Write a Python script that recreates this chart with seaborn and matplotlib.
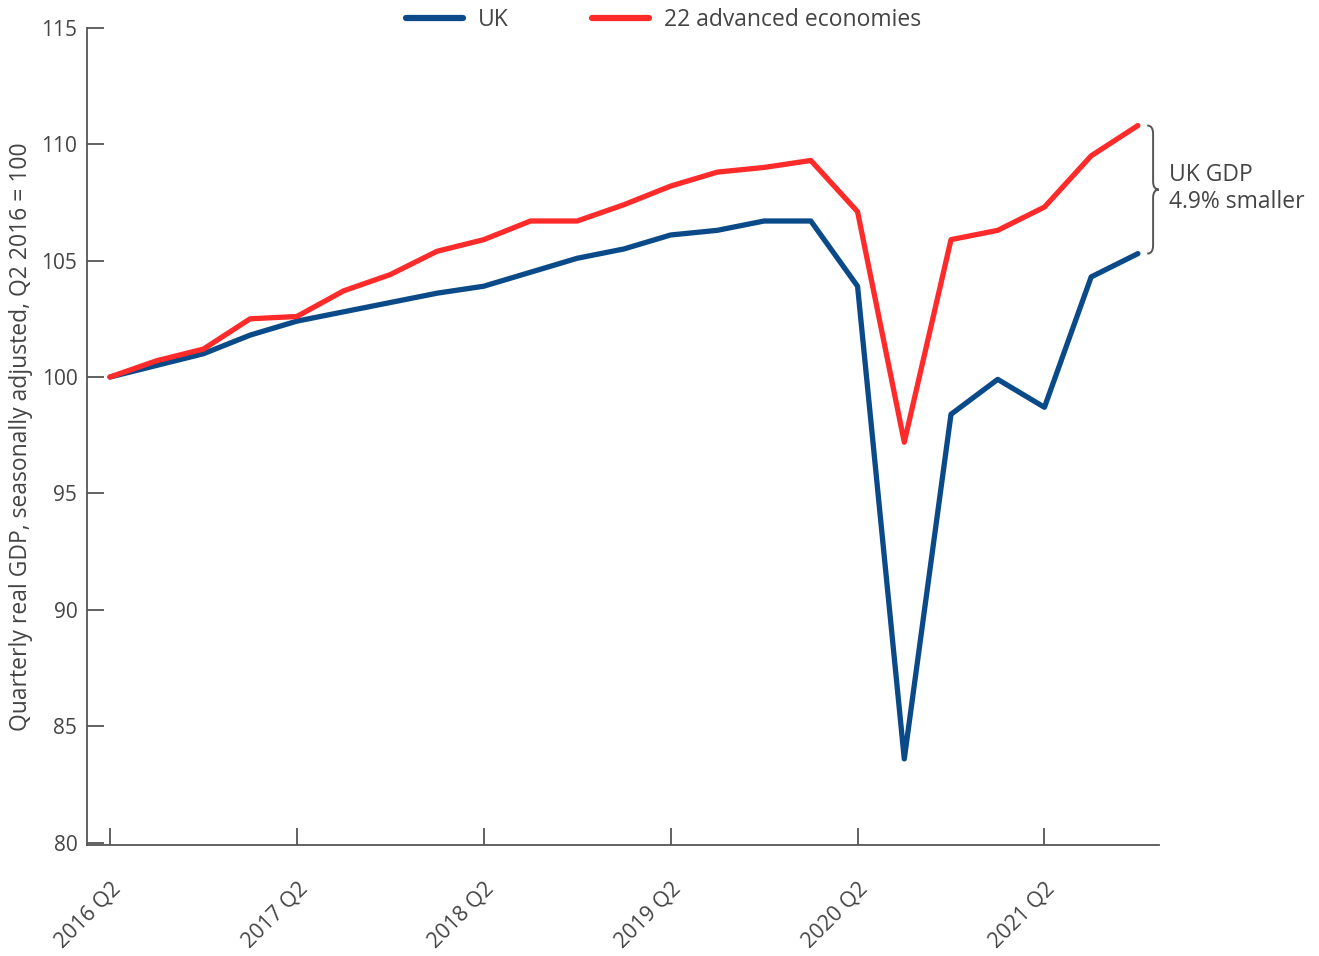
import numpy as np
import pandas as pd
import matplotlib
matplotlib.use("Agg")
import matplotlib.pyplot as plt
from matplotlib.path import Path
from matplotlib.patches import PathPatch
from matplotlib.lines import Line2D
import seaborn as sns

# quarters 2016 Q2 .. 2021 Q4
quarters = ["2016 Q2", "2016 Q3", "2016 Q4", "2017 Q1", "2017 Q2", "2017 Q3", "2017 Q4",
            "2018 Q1", "2018 Q2", "2018 Q3", "2018 Q4", "2019 Q1", "2019 Q2", "2019 Q3",
            "2019 Q4", "2020 Q1", "2020 Q2", "2020 Q3", "2020 Q4", "2021 Q1", "2021 Q2",
            "2021 Q3", "2021 Q4"]
uk = [100.0, 100.5, 101.0, 101.8, 102.4, 102.8, 103.2, 103.6, 103.9, 104.5, 105.1, 105.5,
      106.1, 106.3, 106.7, 106.7, 103.9, 83.6, 98.4, 99.9, 98.7, 104.3, 105.3]
adv22 = [100.0, 100.7, 101.2, 102.5, 102.6, 103.7, 104.4, 105.4, 105.9, 106.7, 106.7, 107.4,
         108.2, 108.8, 109.0, 109.3, 107.1, 97.2, 105.9, 106.3, 107.3, 109.5, 110.8]
tick_labels = ["2016 Q2", "2017 Q2", "2018 Q2", "2019 Q2", "2020 Q2", "2021 Q2"]

sns.set_style("white")
plt.rcParams['font.family'] = ['Open Sans', 'DejaVu Sans']
txt = "#444444"
blue = "#0b4a88"
red = "#ff2b2b"

n = len(quarters)
df = pd.DataFrame({
    "idx": list(range(n)) * 2,
    "gdp": uk + adv22,
    "series": ["UK"] * n + ["22 advanced economies"] * n,
})

fig = plt.figure(figsize=(13.19, 9.56), dpi=100)
ax = fig.add_axes([0.066, 0.116, 0.813, 0.855])

sns.lineplot(data=df, x="idx", y="gdp", hue="series",
             palette={"UK": blue, "22 advanced economies": red},
             linewidth=3.8, ax=ax, legend=False)

ax.set_xlim(-0.49, 22.46)
ax.set_ylim(79.9, 115)
ax.set_yticks(range(80, 116, 5))
ax.set_yticklabels([str(v) for v in range(80, 116, 5)], fontsize=15, color=txt)
ax.set_xticks([quarters.index(q) for q in tick_labels])
ax.set_xticklabels(tick_labels, rotation=45, ha="right", rotation_mode="anchor",
                   fontsize=15.5, color=txt)
ax.tick_params(axis="both", direction="in", length=12, width=1.3, color="#555555",
               bottom=True, left=True)
ax.tick_params(axis="y", pad=7)
ax.tick_params(axis="x", pad=24)
for s in ["top", "right"]:
    ax.spines[s].set_visible(False)
for s in ["left", "bottom"]:
    ax.spines[s].set_color("#555555")
    ax.spines[s].set_linewidth(1.3)
ax.set_xlabel("")
ax.set_ylabel("Quarterly real GDP, seasonally adjusted, Q2 2016 = 100", fontsize=16.5,
              color=txt, labelpad=6)

# legend
handles = [Line2D([], [], color=blue, lw=4.5), Line2D([], [], color=red, lw=4.5)]
fig.legend(handles, ["UK", "22 advanced economies"], loc="center", ncol=2,
           bbox_to_anchor=(0.503, 0.979), frameon=False,
           fontsize=16.5, labelcolor=txt, handlelength=2.5, columnspacing=3.6,
           handletextpad=0.65)

# brace between the last values
y_top, y_bot = adv22[-1], uk[-1]
x0, x1 = 22.2, 22.45
ym = (y_top + y_bot) / 2
xm = (x0 + x1) / 2
d = 0.35
verts = [(x0, y_top), (xm, y_top), (xm, y_top - d),
         (xm, ym + d),
         (xm, ym), (x1, ym), (x1, ym),
         (xm, ym), (xm, ym - d), (xm, ym - d),
         (xm, y_bot + d),
         (xm, y_bot), (x0, y_bot), (x0, y_bot)]
codes = [Path.MOVETO, Path.CURVE3, Path.CURVE3,
         Path.LINETO,
         Path.CURVE3, Path.CURVE3, Path.MOVETO,
         Path.CURVE3, Path.CURVE3, Path.MOVETO,
         Path.LINETO,
         Path.CURVE3, Path.CURVE3, Path.MOVETO]
brace = PathPatch(Path(verts, codes), fill=False, edgecolor="#555555", lw=1.4, clip_on=False)
ax.add_patch(brace)
ax.text(22.67, ym + 0.05, "UK GDP\n4.9% smaller", fontsize=16.5, color=txt, va="center",
        ha="left", linespacing=1.2, clip_on=False)

fig.savefig("out.png", dpi=100)
